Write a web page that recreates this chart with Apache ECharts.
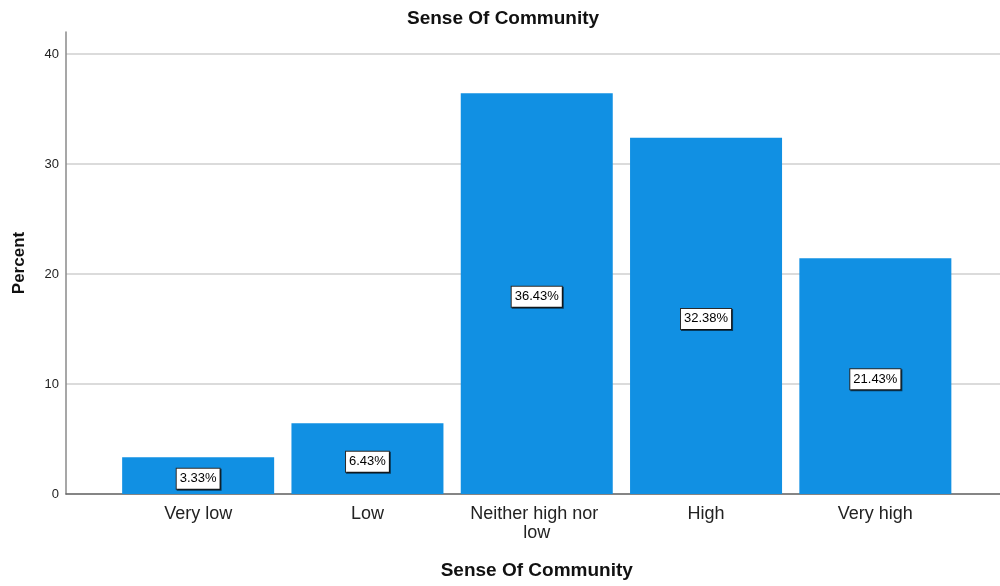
<!DOCTYPE html>
<html>
<head>
<meta charset="utf-8">
<script src="https://cdn.jsdelivr.net/npm/echarts@6/dist/echarts.min.js"></script>
<style>html,body{margin:0;padding:0;background:#fff;}#c{width:1000px;height:586px;}</style>
</head>
<body>
<div id="c"></div>
<script>
const categories = ["Very low", "Low", "Neither high nor low", "High", "Very high"];
const percents = [3.33, 6.43, 36.43, 32.38, 21.43];
const yTicks = [0, 10, 20, 30, 40];

const FONT = '"Liberation Sans", Arial, sans-serif';
const chart = echarts.init(document.getElementById('c'), null, {renderer: 'canvas'});
chart.setOption({
  animation: false,
  backgroundColor: '#ffffff',
  title: {
    text: 'Sense Of Community',
    left: 402, top: 4,
    textStyle: {fontFamily: FONT, fontSize: 19, fontWeight: 'bold', color: '#111'}
  },
  grid: [
    {left: 66, right: 0, top: 32, bottom: 92},
    {left: 113.5, right: 40, top: 32, bottom: 92}
  ],
  xAxis: [
    {gridIndex: 0, type: 'value', min: 0, max: 1, show: true,
     axisLine: {show: true, lineStyle: {color: '#6a6a6a', width: 1.5}},
     axisTick: {show: false}, axisLabel: {show: false}, splitLine: {show: false}},
    {gridIndex: 1, type: 'category', data: categories,
     axisLine: {show: false}, axisTick: {show: false},
     axisLabel: {margin: 11, fontFamily: FONT, fontSize: 18, color: '#222', lineHeight: 19,
       width: 140, overflow: 'break', interval: 0},
     name: 'Sense Of Community', nameLocation: 'middle', nameGap: 67,
     nameTextStyle: {fontFamily: FONT, fontSize: 19, fontWeight: 'bold', color: '#111'}}
  ],
  yAxis: [
    {gridIndex: 0, type: 'value', min: 0, max: 42, interval: 10,
     axisLine: {show: true, lineStyle: {color: '#8a8a8a', width: 1.5}},
     axisTick: {show: false},
     axisLabel: {fontFamily: FONT, fontSize: 13, color: '#222', margin: 7,
       formatter: v => yTicks.includes(v) ? String(v) : ''},
     splitLine: {show: true, showMaxLine: false, lineStyle: {color: '#cfcfcf', width: 1.5}},
     name: 'Percent', nameLocation: 'middle', nameGap: 38, nameRotate: 90,
     nameTextStyle: {fontFamily: FONT, fontSize: 17, fontWeight: 'bold', color: '#111'}},
    {gridIndex: 1, type: 'value', min: 0, max: 42, show: false}
  ],
  series: [{
    type: 'bar', xAxisIndex: 1, yAxisIndex: 1,
    data: percents, barWidth: 152,
    itemStyle: {color: '#1190e3'},
    label: {
      show: true, position: 'inside', offset: [0, 3],
      formatter: p => p.value.toFixed(2) + '%',
      fontFamily: FONT, fontSize: 13, color: '#000',
      backgroundColor: '#fff', borderColor: '#2a2a2a', borderWidth: 1,
      padding: [4, 3, 3, 3],
      shadowColor: 'rgba(0,0,0,0.6)', shadowOffsetX: 1, shadowOffsetY: 1, shadowBlur: 0
    }
  }]
});
</script>
</body>
</html>
